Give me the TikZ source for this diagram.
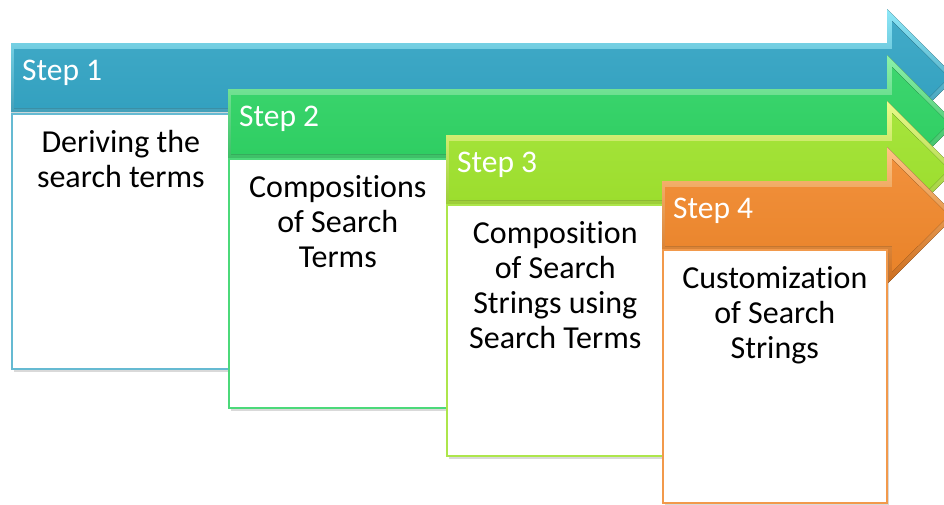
\documentclass[tikz,border=0pt]{standalone}
\usepackage{fontspec}
\setmainfont{Carlito}[Ligatures=NoCommon]
\usetikzlibrary{positioning,shadows}

% Farben der Pfeile (Haupt, hell, dunkel)
\definecolor{bluemain}{HTML}{31A3C3}
\definecolor{bluelight}{HTML}{8EE8F8}
\definecolor{bluedark}{HTML}{2A87A4}
\definecolor{greenmain}{HTML}{2CD262}
\definecolor{greenlight}{HTML}{8CF3AA}
\definecolor{greendark}{HTML}{22AE50}
\definecolor{limemain}{HTML}{9EE22B}
\definecolor{limelight}{HTML}{ECFC8C}
\definecolor{limedark}{HTML}{82BE1E}
\definecolor{orangemain}{HTML}{F0872B}
\definecolor{orangelight}{HTML}{FFC584}
\definecolor{orangedark}{HTML}{CC6C1C}

% Pfeil: #1 links, #2 oben, #3 Farbe
\newcommand{\steparrow}[3]{%
  \fill[top color=#3light, bottom color=#3dark]
    (#1,#2) -- (887,#2) -- (887,#2-34) -- (955.5,#2+34.5)
    -- (887,#2+103) -- (887,#2+69) -- (#1,#2+69) -- cycle;
  \fill[top color=#3main!92!white, bottom color=#3main!97!black]
    (#1+3,#2+6) -- (892,#2+6) -- (892,#2-22) -- (949,#2+34.5)
    -- (892,#2+91) -- (892,#2+65) -- (#1+3,#2+65) -- cycle;
}

\tikzset{
  stepbox/.style={draw=#1, line width=1.6pt, fill=white, rectangle,
    inner sep=0pt, anchor=north west,
    drop shadow={opacity=0.3, shadow xshift=2pt, shadow yshift=-3pt}},
  steplabel/.style={white, font=\fontsize{31.5}{36}\selectfont,
    anchor=base west, inner sep=0pt},
  boxtext/.style={font=\fontsize{32}{35}\selectfont, align=center,
    inner sep=0pt},
}

\begin{document}
\begin{tikzpicture}[x=1pt, y=-1pt]

\useasboundingbox (0,0) rectangle (944,504);
\clip (0,0) rectangle (944,504);

% Schritt 1
\steparrow{11}{43}{blue}
\node[stepbox=bluemain!75!white, minimum width=218pt, minimum height=255pt] (box1) at (11,113) {};
\node[boxtext, below=17pt of box1.north] (text1) {Deriving the\\search terms};
\node[steplabel] (step1) at (22,80) {Step 1};

% Schritt 2
\steparrow{228}{89}{green}
\node[stepbox=greenmain!85!white, minimum width=218pt, minimum height=249pt] (box2) at (228,158) {};
\node[boxtext, below=17pt of box2.north] (text2) {Compositions\\of Search\\Terms};
\node[steplabel] (step2) at (239,126) {Step 2};

% Schritt 3
\steparrow{446}{135}{lime}
\node[stepbox=limemain!85!white, minimum width=217pt, minimum height=251pt] (box3) at (446,204) {};
\node[boxtext, below=17pt of box3.north] (text3) {Composition\\of Search\\Strings using\\Search Terms};
\node[steplabel] (step3) at (457,172) {Step 3};

% Schritt 4
\steparrow{662}{181}{orange}
\node[stepbox=orangemain!85!white, minimum width=224pt, minimum height=253pt] (box4) at (662,249) {};
\node[boxtext, below=17pt of box4.north] (text4) {Customization\\of Search\\Strings};
\node[steplabel] (step4) at (673,218) {Step 4};

\end{tikzpicture}
\end{document}
